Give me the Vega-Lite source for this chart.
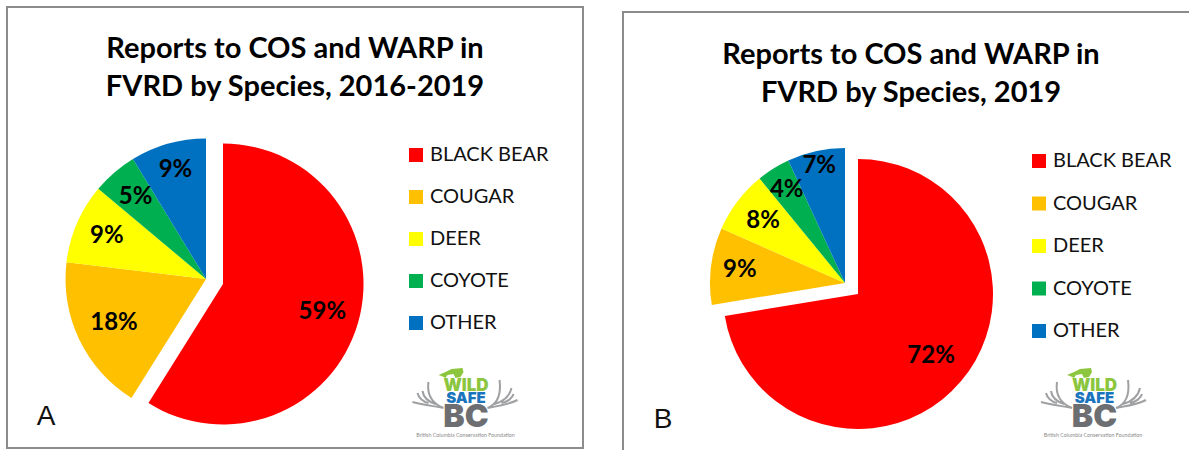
{
"$schema":"https://vega.github.io/schema/vega-lite/v6.json",
"background":"white",
"padding":{"left":6,"top":6,"right":0,"bottom":0},
"spacing":38,
"resolve":{"scale":{"color":"independent"},"legend":{"color":"independent"}},
"config":{"legend":{"orient":"none","title":null,"symbolType":"square","symbolSize":196,"symbolStrokeWidth":0,"labelFont":"Lato","labelFontSize":20,"labelColor":"#111","rowPadding":22,"labelOffset":4,"labelLimit":200},"title":{"font":"Lato","fontWeight":"bold","fontSize":29,"lineHeight":38,"color":"#000","anchor":"middle","frame":"group"}},
"hconcat":[
{"width":576,"height":441,
"view":{"stroke":"#8c8c8c","strokeWidth":2},
"title":{"text":["Reports to COS and WARP in","FVRD by Species, 2016-2019"],"offset":-95},
"data":{"values":[
{"species":"BLACK BEAR","value":58.9,"rank":1,"label":"59%"},
{"species":"COUGAR","value":18.0,"rank":2,"label":"18%"},
{"species":"DEER","value":9.2,"rank":3,"label":"9%"},
{"species":"COYOTE","value":5.2,"rank":4,"label":"5%"},
{"species":"OTHER","value":8.7,"rank":5,"label":"9%"}]},
"transform":[{"stack":"value","groupby":[],"as":["start","end"],"sort":[{"field":"rank","order":"ascending"}]}],
"layer":[
{"transform":[{"filter":"datum.species !== 'BLACK BEAR'"}],
"mark":{"type":"arc","outerRadius":140.5,"xOffset":-89,"yOffset":51.5},
"encoding":{"theta":{"field":"start","type":"quantitative","scale":{"domain":[0,100]}},"theta2":{"field":"end"},
"color":{"field":"species","type":"nominal","sort":null,"scale":{"domain":["BLACK BEAR","COUGAR","DEER","COYOTE","OTHER"],"range":["#ff0000","#ffc000","#ffff00","#00b050","#0070c0"]},"legend":{"legendX":399,"legendY":138}}}},
{"transform":[{"filter":"datum.species === 'BLACK BEAR'"}],
"mark":{"type":"arc","outerRadius":140.5,"xOffset":-72,"yOffset":56.5},
"encoding":{"theta":{"field":"start","type":"quantitative"},"theta2":{"field":"end"},
"color":{"field":"species","type":"nominal","sort":null}}},
{"transform":[{"filter":"datum.species === 'BLACK BEAR'"}],"mark":{"type":"text","radius":121,"thetaOffset":1.85,"font":"Lato","fontWeight":"bold","fontSize":24,"color":"#000","align":"center","baseline":"middle","xOffset":-89,"yOffset":51.5},"encoding":{"theta":{"field":"start","type":"quantitative"},"text":{"field":"label"}}},
{"transform":[{"filter":"datum.species === 'COUGAR'"}],"mark":{"type":"text","radius":102,"thetaOffset":0.565,"font":"Lato","fontWeight":"bold","fontSize":24,"color":"#000","align":"center","baseline":"middle","xOffset":-89,"yOffset":51.5},"encoding":{"theta":{"field":"start","type":"quantitative"},"text":{"field":"label"}}},
{"transform":[{"filter":"datum.species === 'DEER'"}],"mark":{"type":"text","radius":108,"thetaOffset":0.289,"font":"Lato","fontWeight":"bold","fontSize":24,"color":"#000","align":"center","baseline":"middle","xOffset":-89,"yOffset":51.5},"encoding":{"theta":{"field":"start","type":"quantitative"},"text":{"field":"label"}}},
{"transform":[{"filter":"datum.species === 'COYOTE'"}],"mark":{"type":"text","radius":108,"thetaOffset":0.163,"font":"Lato","fontWeight":"bold","fontSize":24,"color":"#000","align":"center","baseline":"middle","xOffset":-89,"yOffset":51.5},"encoding":{"theta":{"field":"start","type":"quantitative"},"text":{"field":"label"}}},
{"transform":[{"filter":"datum.species === 'OTHER'"}],"mark":{"type":"text","radius":113,"thetaOffset":0.273,"font":"Lato","fontWeight":"bold","fontSize":24,"color":"#000","align":"center","baseline":"middle","xOffset":-89,"yOffset":51.5},"encoding":{"theta":{"field":"start","type":"quantitative"},"text":{"field":"label"}}},
{"data":{"values":[{"t":"A"}]},"mark":{"type":"text","font":"Liberation Sans","fontSize":28,"color":"#111","align":"center","baseline":"middle","xOffset":-249,"yOffset":189},"encoding":{"text":{"field":"t"}}},
{"data":{"values":[{"logo":"antlers"}]},"mark":{"type":"point","shape":"M-22,3C-32,1 -42,0 -53,-3M-22,3C-32,-1 -39,-9 -37,-23M-30,-1C-36,-3 -42,-7 -43,-14M-37,-2C-42,-3 -47,-7 -48,-12M22,3C32,1 42,0 52,-5M22,3C32,-1 36,-10 34,-25M29,-1C36,-3 44,-8 46,-17M36,-2C42,-3 47,-7 48,-11","size":4,"filled":false,"stroke":"#77787b","strokeWidth":2,"xOffset":170.5,"yOffset":177.5},"encoding":{}},
{"data":{"values":[{"logo":"cat"}]},"mark":{"type":"point","shape":"M-27,-30L-20,-33L-14,-36L-3,-37L-2,-33L-5,-28L-10,-27L-12,-31L-18,-30L-20,-27L-24,-29Z","size":4,"filled":true,"fill":"#8cc63f","opacity":1,"xOffset":170.5,"yOffset":177.5},"encoding":{}},
{"data":{"values":[{"t":"WILD"}]},"mark":{"type":"text","font":"Inter","fontWeight":900,"fontSize":17,"color":"#8cc63f","align":"center","baseline":"middle","xOffset":171,"yOffset":158},"encoding":{"text":{"field":"t"}}},
{"data":{"values":[{"t":"SAFE"}]},"mark":{"type":"text","font":"Inter","fontWeight":900,"fontSize":15,"color":"#1b75bc","align":"center","baseline":"middle","xOffset":171,"yOffset":170},"encoding":{"text":{"field":"t"}}},
{"data":{"values":[{"t":"BC"}]},"mark":{"type":"text","font":"Inter","fontWeight":900,"fontSize":32,"color":"#6d6e71","align":"center","baseline":"middle","xOffset":171,"yOffset":189},"encoding":{"text":{"field":"t"}}},
{"data":{"values":[{"t":"British Columbia Conservation Foundation"}]},"mark":{"type":"text","font":"Lato","fontSize":5.3,"color":"#8a8a8a","align":"center","baseline":"middle","xOffset":170.5,"yOffset":207},"encoding":{"text":{"field":"t"}}}
]},
{"width":576,"height":451,
"view":{"stroke":null},
"title":{"text":["Reports to COS and WARP in","FVRD by Species, 2019"],"offset":-101},
"data":{"values":[
{"species":"BLACK BEAR","value":72.4,"rank":1,"label":"72%"},
{"species":"COUGAR","value":9.2,"rank":2,"label":"9%"},
{"species":"DEER","value":7.5,"rank":3,"label":"8%"},
{"species":"COYOTE","value":4.0,"rank":4,"label":"4%"},
{"species":"OTHER","value":6.9,"rank":5,"label":"7%"}]},
"transform":[{"stack":"value","groupby":[],"as":["start","end"],"sort":[{"field":"rank","order":"ascending"}]}],
"layer":[
{"data":{"values":[{"frame":"B"}]},"mark":{"type":"rect","fillOpacity":0,"stroke":"#8c8c8c","strokeWidth":2,"yOffset":5},"encoding":{}},
{"transform":[{"filter":"datum.species !== 'BLACK BEAR'"}],
"mark":{"type":"arc","outerRadius":135,"xOffset":-66,"yOffset":50.5},
"encoding":{"theta":{"field":"start","type":"quantitative","scale":{"domain":[0,100]}},"theta2":{"field":"end"},
"color":{"field":"species","type":"nominal","sort":null,"scale":{"domain":["BLACK BEAR","COUGAR","DEER","COYOTE","OTHER"],"range":["#ff0000","#ffc000","#ffff00","#00b050","#0070c0"]},"legend":{"legendX":406,"legendY":144,"rowPadding":22.5}}}},
{"transform":[{"filter":"datum.species === 'BLACK BEAR'"}],
"mark":{"type":"arc","outerRadius":135,"xOffset":-53,"yOffset":61.5},
"encoding":{"theta":{"field":"start","type":"quantitative"},"theta2":{"field":"end"},
"color":{"field":"species","type":"nominal","sort":null}}},
{"transform":[{"filter":"datum.species === 'BLACK BEAR'"}],"mark":{"type":"text","radius":113,"thetaOffset":2.275,"font":"Lato","fontWeight":"bold","fontSize":24,"color":"#000","align":"center","baseline":"middle","xOffset":-66,"yOffset":50.5},"encoding":{"theta":{"field":"start","type":"quantitative"},"text":{"field":"label"}}},
{"transform":[{"filter":"datum.species === 'COUGAR'"}],"mark":{"type":"text","radius":106,"thetaOffset":0.289,"font":"Lato","fontWeight":"bold","fontSize":24,"color":"#000","align":"center","baseline":"middle","xOffset":-66,"yOffset":50.5},"encoding":{"theta":{"field":"start","type":"quantitative"},"text":{"field":"label"}}},
{"transform":[{"filter":"datum.species === 'DEER'"}],"mark":{"type":"text","radius":103,"thetaOffset":0.236,"font":"Lato","fontWeight":"bold","fontSize":24,"color":"#000","align":"center","baseline":"middle","xOffset":-66,"yOffset":50.5},"encoding":{"theta":{"field":"start","type":"quantitative"},"text":{"field":"label"}}},
{"transform":[{"filter":"datum.species === 'COYOTE'"}],"mark":{"type":"text","radius":110,"thetaOffset":0.126,"font":"Lato","fontWeight":"bold","fontSize":24,"color":"#000","align":"center","baseline":"middle","xOffset":-66,"yOffset":50.5},"encoding":{"theta":{"field":"start","type":"quantitative"},"text":{"field":"label"}}},
{"transform":[{"filter":"datum.species === 'OTHER'"}],"mark":{"type":"text","radius":120,"thetaOffset":0.217,"font":"Lato","fontWeight":"bold","fontSize":24,"color":"#000","align":"center","baseline":"middle","xOffset":-66,"yOffset":50.5},"encoding":{"theta":{"field":"start","type":"quantitative"},"text":{"field":"label"}}},
{"data":{"values":[{"t":"B"}]},"mark":{"type":"text","font":"Liberation Sans","fontSize":28,"color":"#111","align":"center","baseline":"middle","xOffset":-248,"yOffset":187},"encoding":{"text":{"field":"t"}}},
{"data":{"values":[{"logo":"antlers"}]},"mark":{"type":"point","shape":"M-22,3C-32,1 -42,0 -53,-3M-22,3C-32,-1 -39,-9 -37,-23M-30,-1C-36,-3 -42,-7 -43,-14M-37,-2C-42,-3 -47,-7 -48,-12M22,3C32,1 42,0 52,-5M22,3C32,-1 36,-10 34,-25M29,-1C36,-3 44,-8 46,-17M36,-2C42,-3 47,-7 48,-11","size":4,"filled":false,"stroke":"#77787b","strokeWidth":2,"xOffset":183,"yOffset":172.5},"encoding":{}},
{"data":{"values":[{"logo":"cat"}]},"mark":{"type":"point","shape":"M-27,-30L-20,-33L-14,-36L-3,-37L-2,-33L-5,-28L-10,-27L-12,-31L-18,-30L-20,-27L-24,-29Z","size":4,"filled":true,"fill":"#8cc63f","opacity":1,"xOffset":183,"yOffset":172.5},"encoding":{}},
{"data":{"values":[{"t":"WILD"}]},"mark":{"type":"text","font":"Inter","fontWeight":900,"fontSize":17,"color":"#8cc63f","align":"center","baseline":"middle","xOffset":183.5,"yOffset":153},"encoding":{"text":{"field":"t"}}},
{"data":{"values":[{"t":"SAFE"}]},"mark":{"type":"text","font":"Inter","fontWeight":900,"fontSize":15,"color":"#1b75bc","align":"center","baseline":"middle","xOffset":183.5,"yOffset":165},"encoding":{"text":{"field":"t"}}},
{"data":{"values":[{"t":"BC"}]},"mark":{"type":"text","font":"Inter","fontWeight":900,"fontSize":32,"color":"#6d6e71","align":"center","baseline":"middle","xOffset":183.5,"yOffset":184},"encoding":{"text":{"field":"t"}}},
{"data":{"values":[{"t":"British Columbia Conservation Foundation"}]},"mark":{"type":"text","font":"Lato","fontSize":5.3,"color":"#8a8a8a","align":"center","baseline":"middle","xOffset":182,"yOffset":202},"encoding":{"text":{"field":"t"}}}
]}
]
}
